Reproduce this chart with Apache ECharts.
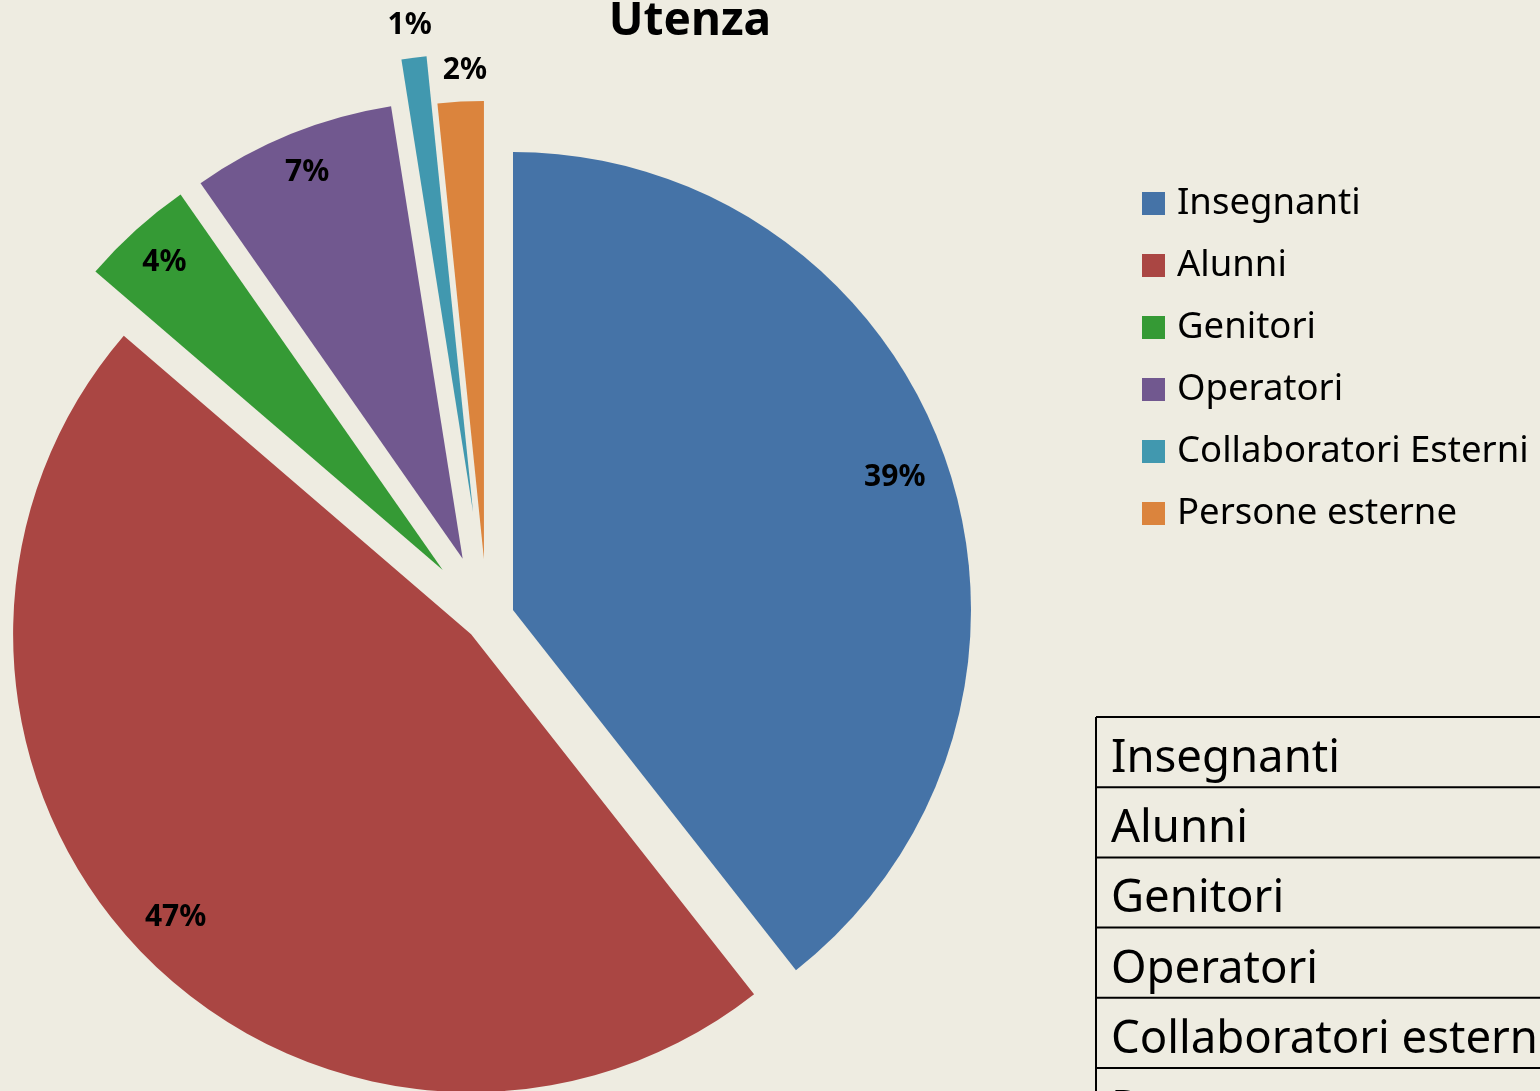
<!DOCTYPE html>
<html>
<head>
<meta charset="utf-8">
<script src="https://cdn.jsdelivr.net/npm/echarts@6/dist/echarts.min.js"></script>
<style>
  html, body { margin: 0; padding: 0; background: #EEECE1; }
  #chart { width: 1540px; height: 1091px; }
</style>
</head>
<body>
<div id="chart"></div>
<script>
// ---- data ----
const categories = ['Insegnanti', 'Alunni', 'Genitori', 'Operatori', 'Collaboratori Esterni', 'Persone esterne'];
const values = [39.4, 46.9, 4.0, 7.2, 0.88, 1.62];
const tableRows = ['Insegnanti', 'Alunni', 'Genitori', 'Operatori', 'Collaboratori esterni', 'Persone esterne'];
const chartTitle = 'Utenza';

// ---- styles ----
const colors = ['#4573A7', '#AA4643', '#359A35', '#71588F', '#4198AF', '#DB843D'];
const explode = [27.5, 22, 66, 65, 108, 60];
const labelDist = [401, 406, 412, 413, 491, 489];
const labelOutside = [false, false, false, false, true, true];
const labelShift = [0, 0, 0, 0, -22, -28];
const CENTER = [487, 619];
const R = 458;
const FONT = '"Noto Sans", "Open Sans", sans-serif';

const series = [];
categories.forEach((cat, i) => {
  // slice shape
  series.push({
    type: 'pie',
    center: CENTER,
    radius: [0, R],
    startAngle: 90,
    clockwise: true,
    silent: true,
    selectedMode: 'multiple',
    selectedOffset: explode[i],
    avoidLabelOverlap: false,
    emphasis: { disabled: true },
    label: { show: false },
    labelLine: { show: false },
    data: values.map((v, j) => ({
      name: categories[j],
      value: v,
      selected: j === i,
      itemStyle: { color: j === i ? colors[i] : 'rgba(0,0,0,0)' }
    }))
  });
  // slice label ring
  const outside = labelOutside[i];
  series.push({
    type: 'pie',
    center: CENTER,
    radius: outside ? [labelDist[i] - 8, labelDist[i]] : [labelDist[i] - 4, labelDist[i] + 4],
    startAngle: 90,
    clockwise: true,
    silent: true,
    selectedMode: 'multiple',
    selectedOffset: explode[i],
    avoidLabelOverlap: false,
    emphasis: { disabled: true },
    labelLine: { show: false, length: 0, length2: 0 },
    label: {
      show: true,
      position: outside ? 'outside' : 'inside',
      distanceToLabelLine: labelShift[i],
      rotate: 0,
      fontFamily: FONT,
      fontWeight: 'bold',
      fontSize: 30,
      color: '#000',
      formatter: p => Math.round(p.percent) + '%'
    },
    data: values.map((v, j) => ({
      name: categories[j],
      value: v,
      selected: j === i,
      itemStyle: { color: 'rgba(0,0,0,0)' },
      label: { show: j === i }
    }))
  });
});

// table graphic
const tableGraphic = [];
const T_LEFT = 1096, T_TOP = 717, ROW_H = 70.2;
tableGraphic.push({
  type: 'line', silent: true,
  shape: { x1: T_LEFT, y1: T_TOP, x2: T_LEFT, y2: 1095 },
  style: { stroke: '#000', lineWidth: 2 }
});
tableRows.forEach((row, k) => {
  const y = T_TOP + k * ROW_H;
  tableGraphic.push({
    type: 'line', silent: true,
    shape: { x1: T_LEFT, y1: y, x2: 1545, y2: y },
    style: { stroke: '#000', lineWidth: 2 }
  });
  tableGraphic.push({
    type: 'text', silent: true,
    x: 1111, y: y + 42,
    style: { text: row, fontFamily: FONT, fontSize: 45.5, fill: '#000', align: 'left', verticalAlign: 'middle' }
  });
});

const chart = echarts.init(document.getElementById('chart'));
chart.setOption({
  backgroundColor: '#EEECE1',
  animation: false,
  legend: {
    orient: 'vertical',
    left: 1137,
    top: 180,
    icon: 'rect',
    itemWidth: 23,
    itemHeight: 23,
    itemGap: 25,
    selectedMode: false,
    textStyle: { fontFamily: FONT, fontSize: 36.5, color: '#000', lineHeight: 36, padding: [0, 0, 0, 7] },
    data: categories.map((c, i) => ({ name: c, itemStyle: { color: colors[i] } }))
  },
  graphic: [
    {
      type: 'text', silent: true,
      x: 690, y: 22,
      style: { text: chartTitle, fontFamily: FONT, fontWeight: 'bold', fontSize: 46, fill: '#000', align: 'center', verticalAlign: 'middle' }
    }
  ].concat(tableGraphic),
  series: series
});
</script>
</body>
</html>
